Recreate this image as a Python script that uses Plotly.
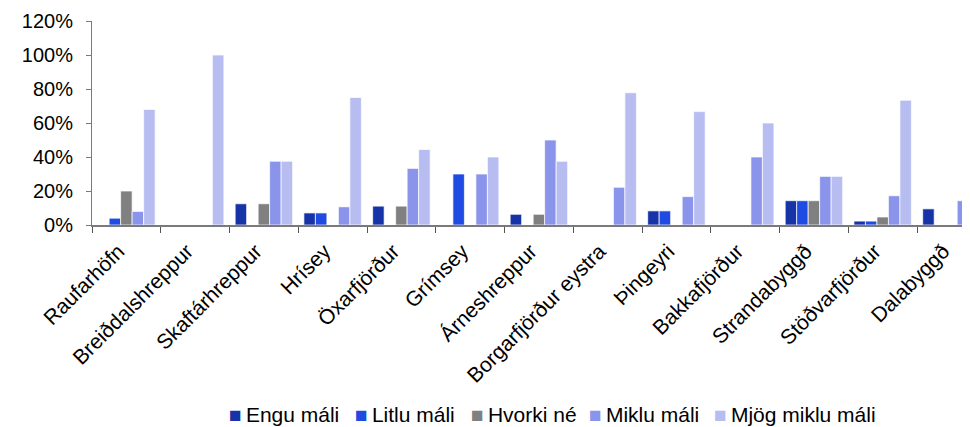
import plotly.graph_objects as go

categories = ["Raufarhöfn", "Breiðdalshreppur", "Skaftárhreppur", "Hrísey", "Öxarfjörður",
              "Grímsey", "Árneshreppur", "Borgarfjörður eystra", "Þingeyri", "Bakkafjörður",
              "Strandabyggð", "Stöðvarfjörður", "Dalabyggð"]

engu_mali = [0, 0, 12.5, 7.1, 11.1, 0, 6.3, 0, 8.3, 0, 14.3, 2.3, 9.5]
litlu_mali = [4.0, 0, 0, 7.1, 0, 30.0, 0, 0, 8.3, 0, 14.3, 2.3, 0]
hvorki_ne = [20.0, 0, 12.5, 0, 11.1, 0, 6.3, 0, 0, 0, 14.3, 4.7, 0]
miklu_mali = [8.0, 0, 37.5, 10.7, 33.3, 30.0, 50.0, 22.2, 16.7, 40.0, 28.6, 17.2, 14.3]
mjog_miklu_mali = [68.0, 100.0, 37.5, 75.0, 44.4, 40.0, 37.5, 77.8, 66.7, 60.0, 28.6, 73.4, 76.2]

series_names = ["Engu máli", "Litlu máli", "Hvorki né", "Miklu máli", "Mjög miklu máli"]
series_values = [engu_mali, litlu_mali, hvorki_ne, miklu_mali, mjog_miklu_mali]
series_colors = ["#1733A8", "#1F4BE2", "#808080", "#8A94EA", "#B7BDF1"]

FONT = "Liberation Sans, Arial, sans-serif"

# figure geometry (page has an 8px body offset)
W, H = 962, 419
ML, MR, MT, MB = 84, 0, 13, 202
plot_w = W - ML - MR
plot_h = H - MT - MB

fig = go.Figure()
for name, vals, col in zip(series_names, series_values, series_colors):
    fig.add_trace(go.Bar(
        x=categories, y=[v / 100 for v in vals], name=name,
        marker=dict(color=col, line=dict(color="rgba(255,255,255,0.7)", width=1)),
        showlegend=False,
    ))

# legend drawn as text entries beneath the chart
legend_left_px = [219, 345, 461, 579, 704]  # figure-pixel x of each entry start
legend_mid_px = 406
for name, col, lx in zip(series_names, series_colors, legend_left_px):
    fig.add_annotation(
        xref="paper", yref="paper",
        x=(lx - ML) / plot_w, y=(H - MB - legend_mid_px) / plot_h,
        xanchor="left", yanchor="middle", showarrow=False,
        text=f"<span style='color:{col}'>■</span>\u2009{name}",
        font=dict(family=FONT, size=21, color="black"),
    )

fig.update_layout(
    width=W, height=H,
    margin=dict(l=ML, r=MR, t=MT, b=MB),
    paper_bgcolor="white", plot_bgcolor="white",
    barmode="group", bargap=0.164, bargroupgap=0,
    font=dict(family=FONT, size=20, color="black"),
    showlegend=False,
)
fig.update_xaxes(
    type="category", range=[-0.5, 12.27],
    showline=True, linecolor="#7a7a7a", linewidth=1.5,
    ticks="outside", tickson="boundaries", ticklen=6, tickcolor="#555",
    tickangle=-45, tickfont=dict(family=FONT, size=21, color="black"),
    ticklabelshift=-8, ticklabelstandoff=4,
    showgrid=False,
)
fig.update_yaxes(
    range=[0, 1.2], dtick=0.2, tickformat=".0%",
    showline=True, linecolor="#7a7a7a", linewidth=1,
    ticks="outside", ticklen=5, tickcolor="#7a7a7a",
    ticklabelstandoff=9,
    tickfont=dict(family=FONT, size=20, color="black"),
    showgrid=False, zeroline=False,
)

fig.write_html("out.html")
